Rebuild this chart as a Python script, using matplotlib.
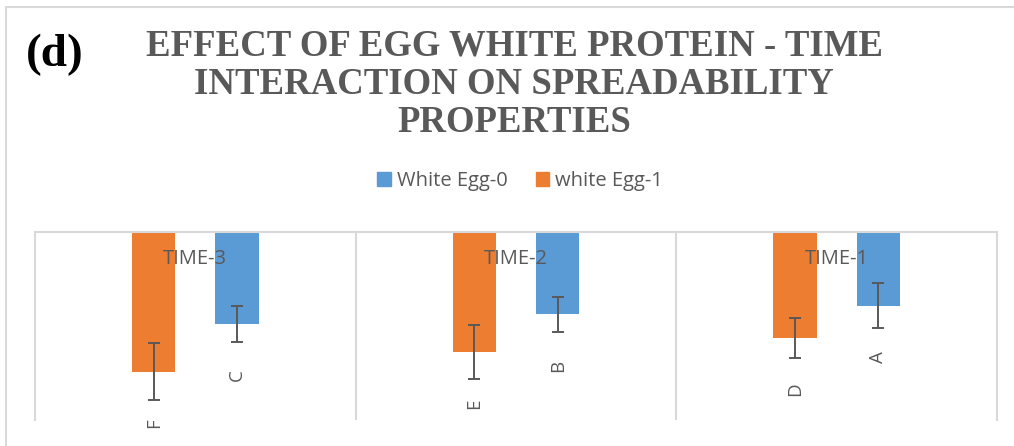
import matplotlib
matplotlib.use("Agg")
import matplotlib.pyplot as plt
import numpy as np
from matplotlib.patches import Patch, Rectangle

# Data (axis drawn reversed, 0 at the top)
categories = ["TIME-3", "TIME-2", "TIME-1"]
egg0_values = [2.45, 2.19, 1.96]  # White Egg-0 (blue)
egg0_errors = [0.48, 0.47, 0.60]
egg0_letters = ["C", "B", "A"]
egg1_values = [3.72, 3.19, 2.81]  # white Egg-1 (orange)
egg1_errors = [0.76, 0.71, 0.53]
egg1_letters = ["F", "E", "D"]

blue = "#5B9BD5"
orange = "#ED7D31"
text_gray = "#595959"
line_gray = "#D9D9D9"

W, H = 1014, 446
fig = plt.figure(figsize=(W / 100, H / 100), dpi=100)

# outer chart border
fig.add_artist(Rectangle((6 / W, -0.1), 1.2, 1.1 - 7 / H, transform=fig.transFigure,
                         fill=False, edgecolor=line_gray, linewidth=1.5))

ax = fig.add_axes([35 / W, (H - 420) / H, (997 - 35) / W, (420 - 232) / H])

x = np.arange(len(categories))
width = 0.135
offset = 0.13

err_kw = dict(ecolor=text_gray, elinewidth=1.4, capsize=4.5, capthick=1.4)
ax.bar(x - offset, egg1_values, width, color=orange, yerr=egg1_errors,
       error_kw=err_kw, zorder=2)
ax.bar(x + offset, egg0_values, width, color=blue, yerr=egg0_errors,
       error_kw=err_kw, zorder=2)

# letter labels beyond the bar ends
for xi, v, lab in zip(x - offset, egg1_values, egg1_letters):
    ax.annotate(lab, (xi, v), xytext=(0, -37), textcoords="offset points",
                rotation=90, ha="center", va="center", fontsize=13.5,
                color=text_gray, family="Open Sans", annotation_clip=False)
for xi, v, lab in zip(x + offset, egg0_values, egg0_letters):
    ax.annotate(lab, (xi, v), xytext=(0, -37), textcoords="offset points",
                rotation=90, ha="center", va="center", fontsize=13.5,
                color=text_gray, family="Open Sans", annotation_clip=False)

ax.set_xlim(-0.5, len(categories) - 0.5)
ax.set_ylim(5, 0)

ax.set_xticks(x)
ax.set_xticklabels(categories, family="Open Sans", fontsize=14.5, color=text_gray)
ax.tick_params(axis="x", top=False, labeltop=True, bottom=False,
               labelbottom=False, pad=-27, length=0)
ax.set_xticks(np.arange(0.5, len(categories) - 0.5), minor=True)
ax.tick_params(axis="x", which="minor", length=0)
ax.grid(True, axis="x", which="minor", color=line_gray, linewidth=1.5)
ax.xaxis.set_zorder(3)
ax.set_yticks([])

for side in ["top", "left", "right"]:
    ax.spines[side].set_color(line_gray)
    ax.spines[side].set_linewidth(1.5)
ax.spines["bottom"].set_visible(False)

fig.text(514 / W, 1 - 84 / H,
         "EFFECT OF EGG WHITE PROTEIN - TIME\nINTERACTION ON SPREADABILITY\nPROPERTIES",
         ha="center", va="center", family="Liberation Serif", weight="bold",
         fontsize=26.5, color=text_gray, linespacing=1.12)
fig.text(55 / W, 1 - 55 / H, "(d)", ha="center", va="center",
         family="Liberation Serif", weight="bold", fontsize=34, color="black")

handles = [Patch(color=blue, label="White Egg-0"),
           Patch(color=orange, label="white Egg-1")]
leg = fig.legend(handles=handles, loc="center", bbox_to_anchor=(520 / W, 1 - 181 / H),
                 ncol=2, frameon=False, handlelength=0.65, handleheight=0.65,
                 handletextpad=0.3, columnspacing=1.4,
                 prop={"family": "Open Sans", "size": 14.5})
for t in leg.get_texts():
    t.set_color(text_gray)

fig.savefig("out.png", dpi=100)
